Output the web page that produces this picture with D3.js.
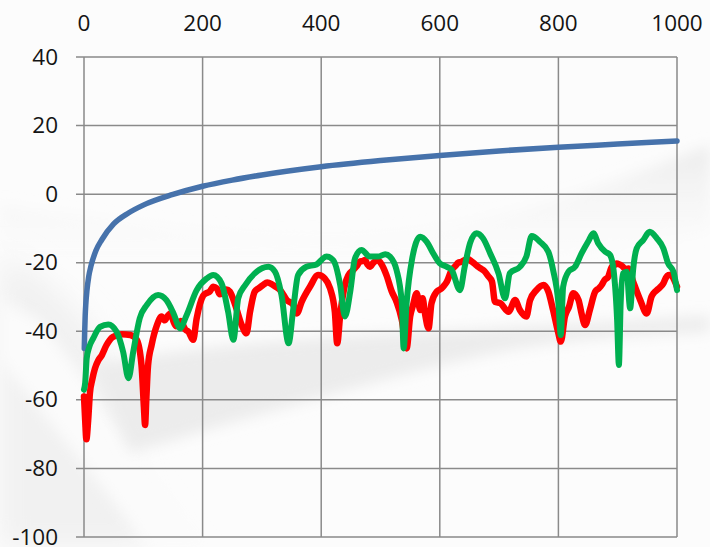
<!DOCTYPE html>
<html>
<head>
<meta charset="utf-8">
<script src="https://cdn.jsdelivr.net/npm/d3@7"></script>
<style>
  html, body { margin: 0; padding: 0; background: #ffffff; }
  svg { display: block; }
  text { font-family: "Open Sans", "Liberation Sans", sans-serif; fill: #141414; }
</style>
</head>
<body>
<svg id="chart" width="710" height="547"></svg>
<script>
// ---- data -------------------------------------------------------------
const xTicks = [0, 200, 400, 600, 800, 1000];
const yTicks = [-100, -80, -60, -40, -20, 0, 20, 40];

// smooth rising curve
const bluePoints = [
  [0.5, -45], [1, -41], [2, -35.5], [3, -32.2], [5, -28], [8, -24], [12, -20.8],
  [20, -16.5], [30, -13.3], [50, -8.7], [75, -5.5], [100, -3.2], [150, -0.1],
  [200, 2.3], [250, 4.1], [300, 5.6], [400, 8], [500, 9.8], [600, 11.3],
  [700, 12.6], [800, 13.7], [900, 14.6], [1000, 15.5]
];

const redPoints = [
  [0, -59], [2, -66], [4, -71.5], [7, -66], [10, -58], [14, -54], [18.5, -50.8],
  [24, -48.5], [30, -47], [38, -44], [49, -41.6], [64, -40.9], [78, -41.1],
  [89, -42.5], [97, -50], [101, -62], [103, -67.3], [105, -60], [108, -50],
  [114, -44], [123, -38.2], [131, -35.7], [136, -36.8], [142, -35.3], [146, -34.8],
  [151, -37.2], [155, -38.5], [159, -37.7], [163, -37], [167, -38.2], [171, -39.5],
  [176, -40.1], [184, -42.5], [190, -36.2], [201, -29.6], [206, -28.9], [212, -28.4],
  [218, -27], [224, -27.5], [229, -29.2], [235, -28.9], [240, -27.8], [246, -28.4],
  [255, -32.3], [266, -38.2], [274, -40.6], [280, -34.3], [288, -28.4], [295, -27.4],
  [302, -26.5], [309, -25.8], [317, -26.3], [324, -27.1], [331, -28], [342, -30.9],
  [353, -32.3], [359, -34.8], [367, -31.4], [381, -27], [395, -23.6], [406, -24.6],
  [415, -27.5], [423, -34.3], [427, -43.5], [432, -35.3], [440, -26.5], [446, -23.6],
  [454, -22.1], [460, -21], [465, -19.7], [470, -19.5], [474, -19.2], [478, -20.5],
  [482, -21.2], [488, -20], [494, -19.2], [502, -20.5], [510, -23.6], [519, -28.4],
  [527, -31.4], [536, -36.7], [544, -45], [550, -35.7], [555, -32.3], [561, -28.9],
  [567, -33.8], [571, -30.4], [575, -34.8], [581, -39.1], [586, -31.8], [595, -28.4],
  [603, -27.5], [608, -26.5], [612, -25.5], [620, -22.1], [626, -21], [631, -20],
  [636, -19.8], [642, -19.2], [648, -19], [654, -19.7], [660, -20.5], [665, -21.2],
  [670, -21.8], [676, -22.6], [682, -24], [688, -25.5], [693, -31.4], [702, -31.8],
  [716, -34.3], [727, -30.9], [735, -33.8], [746, -35.7], [752, -31], [763, -28],
  [775, -26.5], [783, -28.4], [791, -33.8], [800, -40.6], [804, -43], [811, -35.7],
  [818, -32.8], [825, -28.9], [834, -30.9], [839, -34.8], [845, -38.2], [853, -33.8],
  [862, -28.4], [868, -27.5], [873, -26.5], [878, -25], [884, -24.1], [890, -21.2],
  [894, -20.8], [898, -20.2], [903, -20.5], [909, -21.2], [913, -21.9], [918, -21.7],
  [926, -25.5], [938, -30.9], [949, -34.8], [957, -29.9], [961, -28.8], [966, -28],
  [971, -27.2], [977, -26], [981, -24.5], [985, -23.6], [990, -23.5], [994, -24.6],
  [1000, -27]
];

const greenPoints = [
  [0, -57], [2, -55], [4.5, -48], [9, -44.5], [15.7, -42], [27, -38.7], [41, -38],
  [55, -40.1], [66, -46], [75, -53.7], [83, -46], [94, -36.2], [106, -32.3],
  [125, -29.4], [139, -30.9], [151, -34.8], [162, -39.1], [173, -35.3], [190, -28],
  [207, -24.6], [218, -23.6], [232, -26], [243, -34.3], [252, -42.5], [260, -30.4],
  [272, -26.5], [288, -23.1], [311, -21.2], [322, -22.6], [333, -29.4], [345, -43.5],
  [353, -33.3], [361, -23.6], [375, -21.2], [392, -20.5], [409, -18.2], [420, -19.2],
  [432, -26.5], [440, -35.7], [449, -28.4], [457, -18.7], [468, -16.3], [482, -18.2],
  [496, -18.2], [508, -17.5], [516, -18.2], [527, -22.1], [536, -31.8], [539, -45],
  [544, -31.8], [553, -19.2], [567, -12.4], [578, -13.9], [589, -17.3], [600, -20.2],
  [612, -21.2], [620, -22.1], [634, -28], [642, -21.2], [651, -14.3], [662, -11.4],
  [673, -12.9], [685, -17.3], [699, -23.1], [710, -30.4], [718, -23.1], [735, -21.2],
  [746, -18.2], [755, -12.2], [769, -13.9], [783, -16.8], [791, -22.1], [800, -31.8],
  [804, -41.1], [808, -27], [817, -22.6], [828, -21.2], [839, -17.3], [850, -13.9],
  [859, -11.4], [867, -14.3], [879, -16.8], [887, -17.7], [893, -22.1], [899, -36.7],
  [902, -49.8], [905, -31.8], [909, -23.1], [915, -22.6], [921, -33.3], [926, -22.1],
  [932, -15.8], [943, -13.4], [954, -11], [966, -12.9], [977, -15.8], [985, -20.2],
  [994, -22.6], [1000, -28]
];

// ---- layout -----------------------------------------------------------
const W = 710, H = 547;
const plot = { left: 84, top: 57, right: 677, bottom: 537 };

const svg = d3.select("#chart");

// soft decorative backdrop
const defs = svg.append("defs");
defs.append("filter").attr("id", "soft").attr("x", "-20%").attr("y", "-20%")
  .attr("width", "140%").attr("height", "140%")
  .append("feGaussianBlur").attr("stdDeviation", 7);
defs.append("filter").attr("id", "softer").attr("x", "-20%").attr("y", "-20%")
  .attr("width", "140%").attr("height", "140%")
  .append("feGaussianBlur").attr("stdDeviation", 14);

const swoosh = defs.append("linearGradient").attr("id", "swooshGrad")
  .attr("x1", 0).attr("y1", 0).attr("x2", 0).attr("y2", 1);
swoosh.append("stop").attr("offset", "0%").attr("stop-color", "#ebebeb");
swoosh.append("stop").attr("offset", "100%").attr("stop-color", "#ffffff").attr("stop-opacity", 0);

const bg = svg.append("g").attr("class", "backdrop");
bg.append("rect").attr("width", W).attr("height", H).attr("fill", "#fcfcfc");
// upper sweeping band
bg.append("path")
  .attr("d", "M0,205 C120,222 220,236 330,236 C450,236 560,205 710,145 L710,230 C560,270 420,290 300,292 C180,292 80,280 0,265 Z")
  .attr("fill", "url(#swooshGrad)")
  .attr("filter", "url(#soft)");
// lower left grey area
bg.append("path")
  .attr("d", "M0,255 C40,270 70,300 100,340 L150,547 L0,547 Z")
  .attr("fill", "#f1f1f1")
  .attr("filter", "url(#softer)");
// light diagonal streak
bg.append("path")
  .attr("d", "M0,300 L40,320 L210,547 L150,547 L0,360 Z")
  .attr("fill", "#fbfbfb")
  .attr("filter", "url(#soft)");
// rising band
bg.append("path")
  .attr("d", "M90,365 C200,345 300,338 420,332 C540,326 630,320 710,316 L710,332 C620,336 560,340 500,352 C420,368 330,395 230,423 C190,435 160,445 130,452 Z")
  .attr("fill", "#ececec")
  .attr("filter", "url(#soft)");

// ---- scales -----------------------------------------------------------
const x = d3.scaleLinear().domain([0, 1000]).range([plot.left, plot.right]);
const y = d3.scaleLinear().domain([-100, 40]).range([plot.bottom, plot.top]);

const gridColor = "#8a8a8a";

// gridlines
const grid = svg.append("g").attr("class", "grid");
grid.selectAll("line.h").data(yTicks).join("line")
  .attr("class", "h")
  .attr("x1", plot.left - 8).attr("x2", plot.right)
  .attr("y1", d => y(d)).attr("y2", d => y(d))
  .attr("stroke", gridColor).attr("stroke-width", 1.5);
grid.selectAll("line.v").data(xTicks).join("line")
  .attr("class", "v")
  .attr("x1", d => x(d)).attr("x2", d => x(d))
  .attr("y1", plot.top).attr("y2", plot.bottom)
  .attr("stroke", gridColor).attr("stroke-width", 1.5);

// axis labels
svg.append("g").selectAll("text").data(yTicks).join("text")
  .attr("x", 58).attr("y", d => y(d) + 7.5)
  .attr("text-anchor", "end")
  .attr("font-size", 22.5)
  .text(d => d);

svg.append("g").selectAll("text").data(xTicks).join("text")
  .attr("x", d => x(d)).attr("y", 31)
  .attr("text-anchor", "middle")
  .attr("font-size", 22.5)
  .text(d => d);

// ---- series -----------------------------------------------------------
const lineSmooth = d3.line().x(d => x(d[0])).y(d => y(d[1])).curve(d3.curveMonotoneX);

const series = [
  { pts: bluePoints, color: "#4672ab", w: 5.5 },
  { pts: redPoints, color: "#ff0000", w: 6.5 },
  { pts: greenPoints, color: "#00b050", w: 6 }
];

svg.append("g").selectAll("path").data(series).join("path")
  .attr("d", d => lineSmooth(d.pts))
  .attr("fill", "none")
  .attr("stroke", d => d.color)
  .attr("stroke-width", d => d.w)
  .attr("stroke-linejoin", "round")
  .attr("stroke-linecap", "round");
</script>
</body>
</html>
